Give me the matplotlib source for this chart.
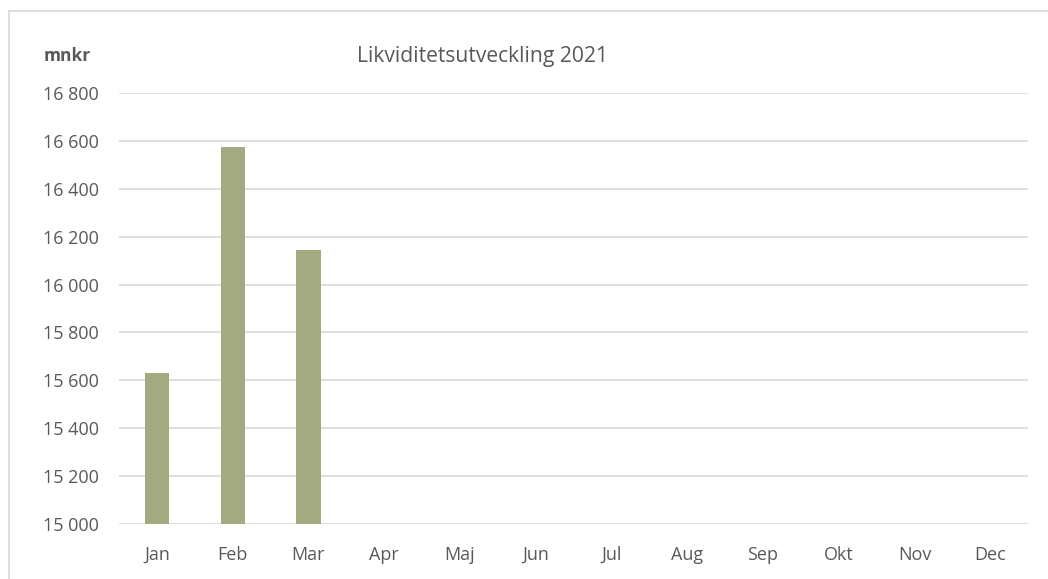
import matplotlib.pyplot as plt
from matplotlib.patches import Rectangle

# Liquidity per month, mnkr (only Jan-Mar reported)
MONTHS = ['Jan', 'Feb', 'Mar', 'Apr', 'Maj', 'Jun',
          'Jul', 'Aug', 'Sep', 'Okt', 'Nov', 'Dec']
VALUES = [15630, 16575, 16145]
Y_TICKS = [15000, 15200, 15400, 15600, 15800, 16000, 16200, 16400, 16600, 16800]

TEXT_COLOR = '#595959'
GRID_COLOR = '#d9d9d9'
BAR_COLOR = '#a4aa7f'

plt.rcParams['font.family'] = ['Open Sans', 'DejaVu Sans']


def fmt(v):
    return f"{v:,}".replace(',', ' ')


fig = plt.figure(figsize=(10.48, 5.79), dpi=100)
ax = fig.add_axes([0.1136, 0.095, 0.8674, 0.7444])

x = list(range(len(MONTHS)))
ax.bar(x[:len(VALUES)], VALUES, width=0.32, color=BAR_COLOR, zorder=3)

ax.set_xlim(-0.5, len(MONTHS) - 0.5)
ax.set_ylim(Y_TICKS[0], Y_TICKS[-1])
ax.set_yticks(Y_TICKS)
ax.set_yticklabels([fmt(v) for v in Y_TICKS])
ax.set_xticks(x)
ax.set_xticklabels(MONTHS)
ax.tick_params(axis='both', length=0, labelsize=13, colors=TEXT_COLOR)
ax.tick_params(axis='y', pad=14.5)
ax.tick_params(axis='x', pad=16)
ax.grid(axis='y', color=GRID_COLOR, linewidth=1.2, zorder=0)
for s in ax.spines.values():
    s.set_visible(False)

fig.text(0.46, 0.903, 'Likviditetsutveckling 2021', ha='center', va='center',
         fontsize=15.2, color=TEXT_COLOR)
fig.text(0.064, 0.903, 'mnkr', ha='center', va='center', fontsize=12.5,
         fontweight='bold', color=TEXT_COLOR)

# light chart-area border
fig.patches.append(Rectangle((9 / 1048, -0.01), 1.02, 1 - 11 / 579 + 0.01,
                             transform=fig.transFigure, fill=False,
                             edgecolor=GRID_COLOR, linewidth=1.2))

fig.savefig('out.png', dpi=100)
